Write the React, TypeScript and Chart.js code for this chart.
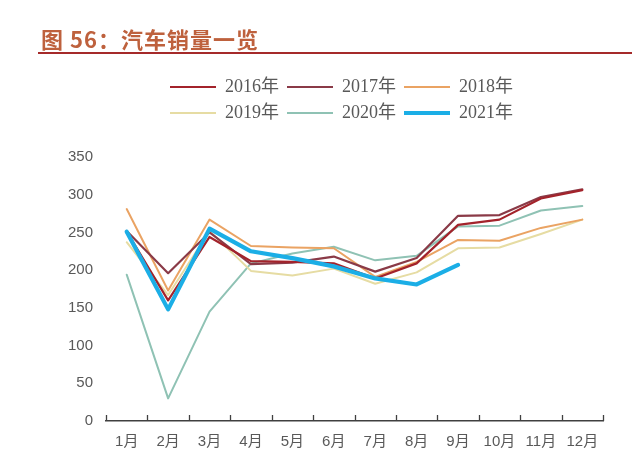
import React, { useEffect, useRef } from 'react';
import { Chart, registerables } from 'chart.js';

Chart.register(...registerables);

const months = ['1月', '2月', '3月', '4月', '5月', '6月', '7月', '8月', '9月', '10月', '11月', '12月'];
const years = ['2016年', '2017年', '2018年', '2019年', '2020年', '2021年'];
const sales2016 = [251, 160, 244, 212, 211, 209, 189, 209, 260, 267, 295, 306];
const sales2017 = [252, 196, 250, 208, 210, 218, 198, 216, 272, 273, 297, 307];
const sales2018 = [281, 173, 267, 232, 230, 229, 191, 211, 240, 239, 256, 267];
const sales2019 = [237, 167, 252, 199, 193, 202, 182, 197, 229, 230, 248, 267];
const sales2020 = [194, 30, 145, 209, 222, 231, 213, 219, 258, 259, 279, 285];
const sales2021 = [251, 148, 255, 225, 216, 205, 189, 181, 207];
const yTicks = [0, 50, 100, 150, 200, 250, 300, 350];

const seriesList = [sales2016, sales2017, sales2018, sales2019, sales2020, sales2021];
const lineColors = ['#A3232B', '#8A3A47', '#EAA363', '#E6DCA3', '#8FC2B4', '#1BAEE6'];
const lineWidths = [2.2, 2.2, 2, 2, 2, 4.2];
const axisColor = '#404040';
const textColor = '#595959';

const legendFitPlugin = {
  id: 'legendFit',
  beforeInit(chart: any) {
    const legend = chart.legend;
    if (!legend) return;
    const orig = legend.fit;
    legend.fit = function () {
      const full = this.maxWidth;
      this.maxWidth = 420;
      orig.call(this);
      this.maxWidth = full;
      this.width = full;
      this.height += 25;
    };
  },
  afterLayout(chart: any) {
    const l = chart.legend;
    if (l) {
      const c = (l.left + l.right) / 2 + 36;
      l.left = c - 210;
      l.right = c + 210;
    }
  },
};

const axisTicksPlugin = {
  id: 'axisTicks',
  afterDatasetsDraw(chart: any) {
    const xs = chart.scales.x;
    const ctx = chart.ctx;
    const n = months.length;
    const half = (xs.getPixelForValue(1) - xs.getPixelForValue(0)) / 2;
    ctx.save();
    ctx.strokeStyle = axisColor;
    ctx.lineWidth = 1.3;
    ctx.beginPath();
    for (let i = 0; i <= n; i++) {
      const px = Math.round(xs.getPixelForValue(i) - half) + 0.5;
      ctx.moveTo(px, xs.top);
      ctx.lineTo(px, xs.top - 6);
    }
    ctx.stroke();
    ctx.restore();
  },
};

export default function App() {
  const canvasRef = useRef<HTMLCanvasElement | null>(null);

  useEffect(() => {
    if (!canvasRef.current) return;
    const chart = new Chart(canvasRef.current, {
      type: 'line',
      data: {
        labels: months,
        datasets: seriesList.map((data, i) => ({
          label: years[i],
          data,
          borderColor: lineColors[i],
          backgroundColor: lineColors[i],
          borderWidth: lineWidths[i],
          pointRadius: 0,
          pointHoverRadius: 0,
          tension: 0,
          fill: false,
          borderJoinStyle: 'round' as const,
          borderCapStyle: 'round' as const,
          order: i === 5 ? 0 : 1,
        })),
      },
      options: {
        responsive: false,
        animation: false,
        layout: { padding: { top: 62, left: 0, right: 29, bottom: 11 } },
        plugins: {
          legend: {
            position: 'top',
            labels: {
              usePointStyle: true,
              pointStyle: 'line',
              pointStyleWidth: 46,
              padding: 8,
              color: textColor,
              font: {
                family: "'Liberation Serif', 'Noto Sans CJK SC', serif",
                size: 18,
              },
              sort: (a: any, b: any) => a.datasetIndex - b.datasetIndex,
            },
          },
          tooltip: { enabled: false },
          title: { display: false },
        },
        scales: {
          x: {
            type: 'category',
            offset: true,
            afterFit: (scale: any) => {
              scale.height = 30;
            },
            grid: { display: true, drawOnChartArea: false, drawTicks: false, offset: true },
            border: { display: true, color: axisColor, width: 1.5 },
            ticks: {
              color: textColor,
              padding: 12,
              maxRotation: 0,
              autoSkip: false,
              font: { family: "'Liberation Sans', 'Noto Sans CJK SC', sans-serif", size: 15 },
            },
          },
          y: {
            min: yTicks[0],
            max: yTicks[yTicks.length - 1],
            afterFit: (scale: any) => {
              scale.width = 98;
            },
            afterBuildTicks: (scale: any) => {
              scale.ticks = yTicks.map((v) => ({ value: v }));
            },
            grid: { display: false, drawTicks: false },
            border: { display: false },
            ticks: {
              color: textColor,
              padding: 13,
              font: { family: "'Liberation Sans', 'Noto Sans CJK SC', sans-serif", size: 15 },
            },
          },
        },
      },
      plugins: [legendFitPlugin, axisTicksPlugin],
    } as any);
    return () => chart.destroy();
  }, []);

  return (
    <div style={{ position: 'relative', width: 624, height: 454 }}>
      <canvas
        ref={canvasRef}
        width={624}
        height={454}
        style={{ position: 'absolute', left: 0, top: 0, display: 'block' }}
      />
      <div
        style={{
          position: 'absolute',
          left: 33,
          top: 19,
          fontFamily: "'Noto Sans CJK SC', sans-serif",
          fontWeight: 700,
          fontSize: 22,
          lineHeight: '22px',
          letterSpacing: 1,
          color: '#BE613D',
          whiteSpace: 'nowrap',
        }}
      >
        图 56：汽车销量一览
      </div>
      <div
        style={{
          position: 'absolute',
          left: 30,
          top: 44,
          width: 602,
          height: 2,
          background: '#A52A2A',
        }}
      />
    </div>
  );
}
